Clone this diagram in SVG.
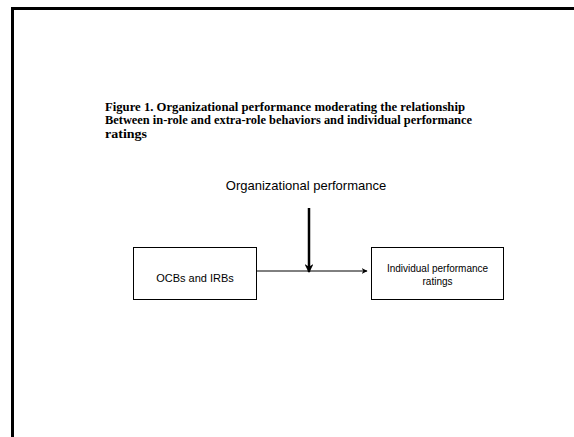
<svg xmlns="http://www.w3.org/2000/svg" width="574" height="437" viewBox="0 0 574 437">
<style>
.title{font-family:"Liberation Serif",serif;font-weight:bold;font-size:11.5px;fill:#000}
.lbl{font-family:"Liberation Sans",Arial,sans-serif;fill:#000;text-anchor:middle}
.box{fill:#fff;stroke:#000;stroke-width:1}
</style>
<defs>
<marker id="ah" viewBox="0 0 10 10" refX="9" refY="5" markerWidth="6" markerHeight="6" markerUnits="userSpaceOnUse" orient="auto">
<path d="M0,0 L10,5 L0,10 L3,5 Z" fill="#000"/>
</marker>
<marker id="ah2" viewBox="0 0 10 10" refX="9" refY="5" markerWidth="3.5" markerHeight="3.5" orient="auto">
<path d="M0,0 L10,5 L0,10 L3,5 Z" fill="#000"/>
</marker>
</defs>
<rect width="574" height="437" fill="#fff"/>
<path d="M12.5,437 L12.5,8.5 L574,8.5" fill="none" stroke="#000" stroke-width="3"/>
<g id="title">
<text class="title" x="105" y="110.5" textLength="360" lengthAdjust="spacingAndGlyphs">Figure 1. Organizational performance moderating the relationship</text>
<text class="title" x="105" y="124" textLength="367" lengthAdjust="spacingAndGlyphs">Between in-role and extra-role behaviors and individual performance</text>
<text class="title" x="105" y="137.5" textLength="42" lengthAdjust="spacingAndGlyphs">ratings</text>
</g>
<g id="moderator">
<text class="lbl" x="306" y="190" font-size="13">Organizational performance</text>
</g>
<g id="ocbs">
<rect class="box" x="133.5" y="247.5" width="123" height="52"/>
<text class="lbl" x="195" y="282" font-size="11">OCBs and IRBs</text>
</g>
<g id="ratings">
<rect class="box" x="371.5" y="247.5" width="132" height="52"/>
<text class="lbl" x="437.5" y="272" font-size="10">Individual performance</text>
<text class="lbl" x="437.5" y="284.5" font-size="10">ratings</text>
</g>
<g id="connectors">
<line x1="256.5" y1="271" x2="367" y2="271" stroke="#000" stroke-width="1" marker-end="url(#ah)"/>
<line x1="309" y1="208" x2="309" y2="272" stroke="#000" stroke-width="2.5" marker-end="url(#ah2)"/>
</g>
</svg>
